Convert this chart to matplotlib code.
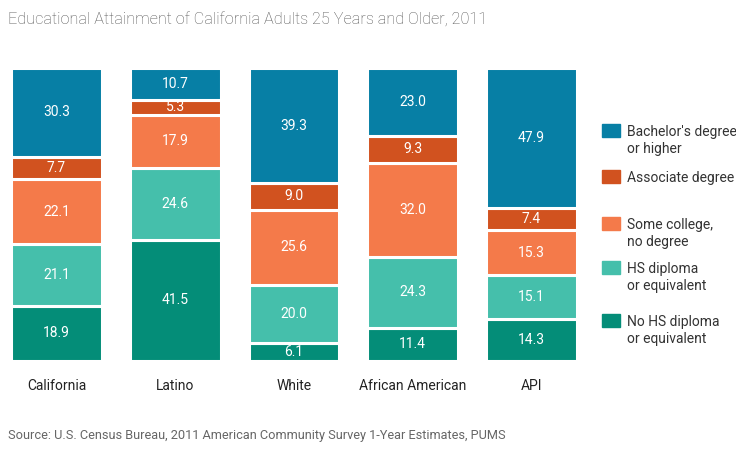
import matplotlib
matplotlib.use("Agg")
import matplotlib.pyplot as plt
from matplotlib.patches import Rectangle
import numpy as np

categories = ["California", "Latino", "White", "African American", "API"]
series_names = ["No HS diploma\nor equivalent", "HS diploma\nor equivalent",
                "Some college,\nno degree", "Associate degree",
                "Bachelor's degree\nor higher"]
no_hs = [18.9, 41.5, 6.1, 11.4, 14.3]
hs_diploma = [21.1, 24.6, 20.0, 24.3, 15.1]
some_college = [22.1, 17.9, 25.6, 32.0, 15.3]
associate = [7.7, 5.3, 9.0, 9.3, 7.4]
bachelors = [30.3, 10.7, 39.3, 23.0, 47.9]
series = [no_hs, hs_diploma, some_college, associate, bachelors]
colors = ["#048d78", "#45bfab", "#f47a4a", "#d1521f", "#077fa5"]

W, H = 736, 449
fig = plt.figure(figsize=(W / 100, H / 100), dpi=100)
ax = fig.add_axes([11 / W, 1 - 361 / H, (577 - 11) / W, (361 - 68) / H])

x = np.arange(len(categories))
width = 0.765
bottom = np.zeros(len(categories))
for vals, col in zip(series, colors):
    vals = np.array(vals)
    bars = ax.bar(x, vals, width, bottom=bottom, color=col, edgecolor="white",
                  linewidth=2.2)
    for xi, b, v in zip(x, bottom, vals):
        ax.text(xi, b + v / 2, f"{v:.1f}", ha="center", va="center",
                color="white", fontsize=10, family="Roboto")
    bottom += vals

ax.set_xlim(-width / 2, len(categories) - 1 + width / 2)
ax.set_ylim(0, bottom.max())
ax.set_yticks([])
ax.set_xticks(x)
ax.set_xticklabels(categories, fontsize=10, family="Roboto", color="#222222")
ax.tick_params(axis="x", length=0, pad=13)
for s in ax.spines.values():
    s.set_visible(False)

fig.text(8 / W, 1 - 20 / H, "Educational Attainment of California Adults 25 Years and Older, 2011",
         fontsize=11.7, family="Roboto", fontweight="light", color="#555555",
         va="center", ha="left")
fig.text(8 / W, 1 - 436 / H,
         "Source: U.S. Census Bureau, 2011 American Community Survey 1-Year Estimates, PUMS",
         fontsize=9.2, family="Roboto", color="#666666",
         va="center", ha="left")

# legend (top to bottom)
leg_y = [131, 177, 224, 268, 321]
for name, col, yy in zip(series_names[::-1], colors[::-1], leg_y):
    fig.patches.append(Rectangle((602 / W, 1 - (yy + 6) / H), 18 / W, 13 / H,
                                 transform=fig.transFigure, color=col))
    fig.text(627 / W, 1 - (yy - 6) / H, name, fontsize=10, family="Roboto",
             color="#333333", va="top", ha="left", linespacing=1.25)

fig.savefig("out.png", dpi=100)
